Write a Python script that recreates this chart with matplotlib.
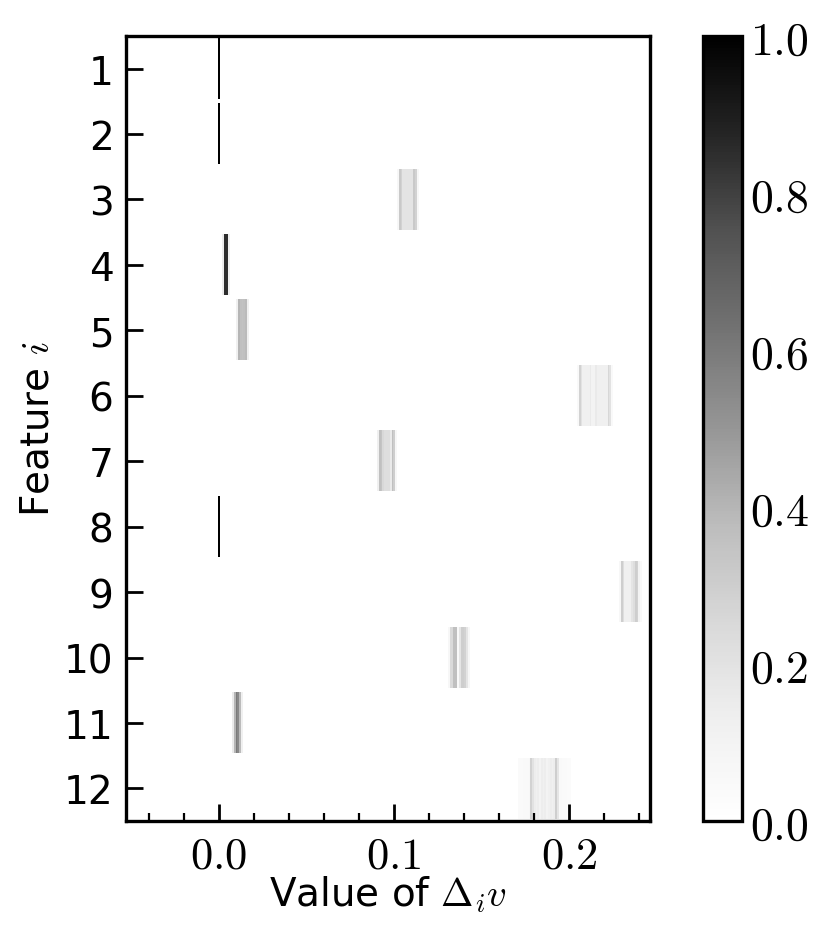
import numpy as np
import matplotlib

matplotlib.use("Agg")
import matplotlib.pyplot as plt
from matplotlib.cm import ScalarMappable
from matplotlib.colors import Normalize
from matplotlib.ticker import FuncFormatter, MultipleLocator

plt.rcParams.update(
    {
        "font.family": "DejaVu Sans",
        "mathtext.fontset": "cm",
        "axes.linewidth": 2.4,
    }
)

# --- data: per-feature histogram of Delta_i v (bin width 0.001, normalised) ---
BIN_W = 0.001
features = list(range(1, 13))

f1_start, f1_vals = 0.000, [1.0]
f2_start, f2_vals = 0.000, [1.0]
f3_start, f3_vals = 0.102, [0.06, 0.32, 0.28, 0.19, 0.19, 0.19, 0.19, 0.19, 0.19, 0.32, 0.28, 0.06]
f4_start, f4_vals = 0.002, [0.15, 0.85, 0.85, 0.12]
f5_start, f5_vals = 0.010, [0.12, 0.40, 0.36, 0.35, 0.36, 0.38, 0.12]
f6_start, f6_vals = 0.205, [0.05, 0.28, 0.20, 0.12, 0.12, 0.12, 0.12, 0.16, 0.10, 0.10, 0.16,
                            0.12, 0.12, 0.12, 0.12, 0.12, 0.12, 0.26, 0.20, 0.05]
f7_start, f7_vals = 0.091, [0.12, 0.36, 0.34, 0.25, 0.22, 0.22, 0.22, 0.16, 0.36, 0.30, 0.06]
f8_start, f8_vals = 0.000, [1.0]
f9_start, f9_vals = 0.229, [0.06, 0.30, 0.22, 0.12, 0.12, 0.12, 0.12, 0.18, 0.22, 0.30, 0.28, 0.10, 0.05]
f10_start, f10_vals = 0.131, [0.06, 0.24, 0.24, 0.36, 0.36, 0.05, 0.18, 0.30, 0.30, 0.28, 0.18, 0.06]
f11_start, f11_vals = 0.008, [0.15, 0.40, 0.60, 0.55, 0.38, 0.12]
f12_start, f12_vals = 0.171, [0.04, 0.04, 0.04, 0.05, 0.05, 0.05, 0.06, 0.28, 0.20, 0.14, 0.12,
                              0.14, 0.10, 0.14, 0.12, 0.14, 0.10, 0.12, 0.14, 0.12, 0.14, 0.30,
                              0.18, 0.05, 0.05, 0.04, 0.04, 0.04, 0.03, 0.03]

starts = [f1_start, f2_start, f3_start, f4_start, f5_start, f6_start,
          f7_start, f8_start, f9_start, f10_start, f11_start, f12_start]
rows = [f1_vals, f2_vals, f3_vals, f4_vals, f5_vals, f6_vals,
        f7_vals, f8_vals, f9_vals, f10_vals, f11_vals, f12_vals]

x_range = (-0.053, 0.246)

fig = plt.figure(figsize=(8.29, 9.45), dpi=100)
ax = fig.add_axes([0.152, 0.130, 0.632, 0.831])
cax = fig.add_axes([0.848, 0.130, 0.047, 0.831])

cmap = plt.get_cmap("Greys")
half = 0.46
for feat, s, vals in zip(features, starts, rows):
    arr = np.array(vals)[None, :]
    x0 = s - BIN_W / 2
    x1 = s + (len(vals) - 0.5) * BIN_W
    ax.imshow(arr, cmap=cmap, vmin=0, vmax=1, aspect="auto", interpolation="nearest",
              extent=(x0, x1, feat + half, feat - half))

ax.set_xlim(*x_range)
ax.set_ylim(12.5, 0.5)
ax.set_yticks(features)
ax.set_yticklabels([str(f) for f in features], fontsize=28)

ax.xaxis.set_major_locator(MultipleLocator(0.1))
ax.xaxis.set_minor_locator(MultipleLocator(0.02))
ax.xaxis.set_major_formatter(FuncFormatter(lambda v, p: f"${v:.1f}$"))
ax.tick_params(axis="x", which="major", direction="in", length=12, width=2.0, labelsize=32, pad=9)
ax.tick_params(axis="x", which="minor", direction="in", length=6, width=1.6)
ax.tick_params(axis="y", which="major", direction="in", length=12, width=2.0, pad=9)
ax.tick_params(axis="y", which="minor", left=False)

ax.set_xlabel(r"Value of $\Delta_i v$", fontsize=28, labelpad=-2)
ax.set_ylabel(r"Feature $i$", fontsize=28, labelpad=5)

sm = ScalarMappable(norm=Normalize(0, 1), cmap=cmap)
cb = fig.colorbar(sm, cax=cax)
cb.set_ticks([0.0, 0.2, 0.4, 0.6, 0.8, 1.0])
cb.ax.yaxis.set_major_formatter(FuncFormatter(lambda v, p: f"${v:.1f}$"))
cb.ax.tick_params(length=0, labelsize=33, pad=6)
cb.outline.set_linewidth(2.4)

fig.savefig("out.png", dpi=100)
